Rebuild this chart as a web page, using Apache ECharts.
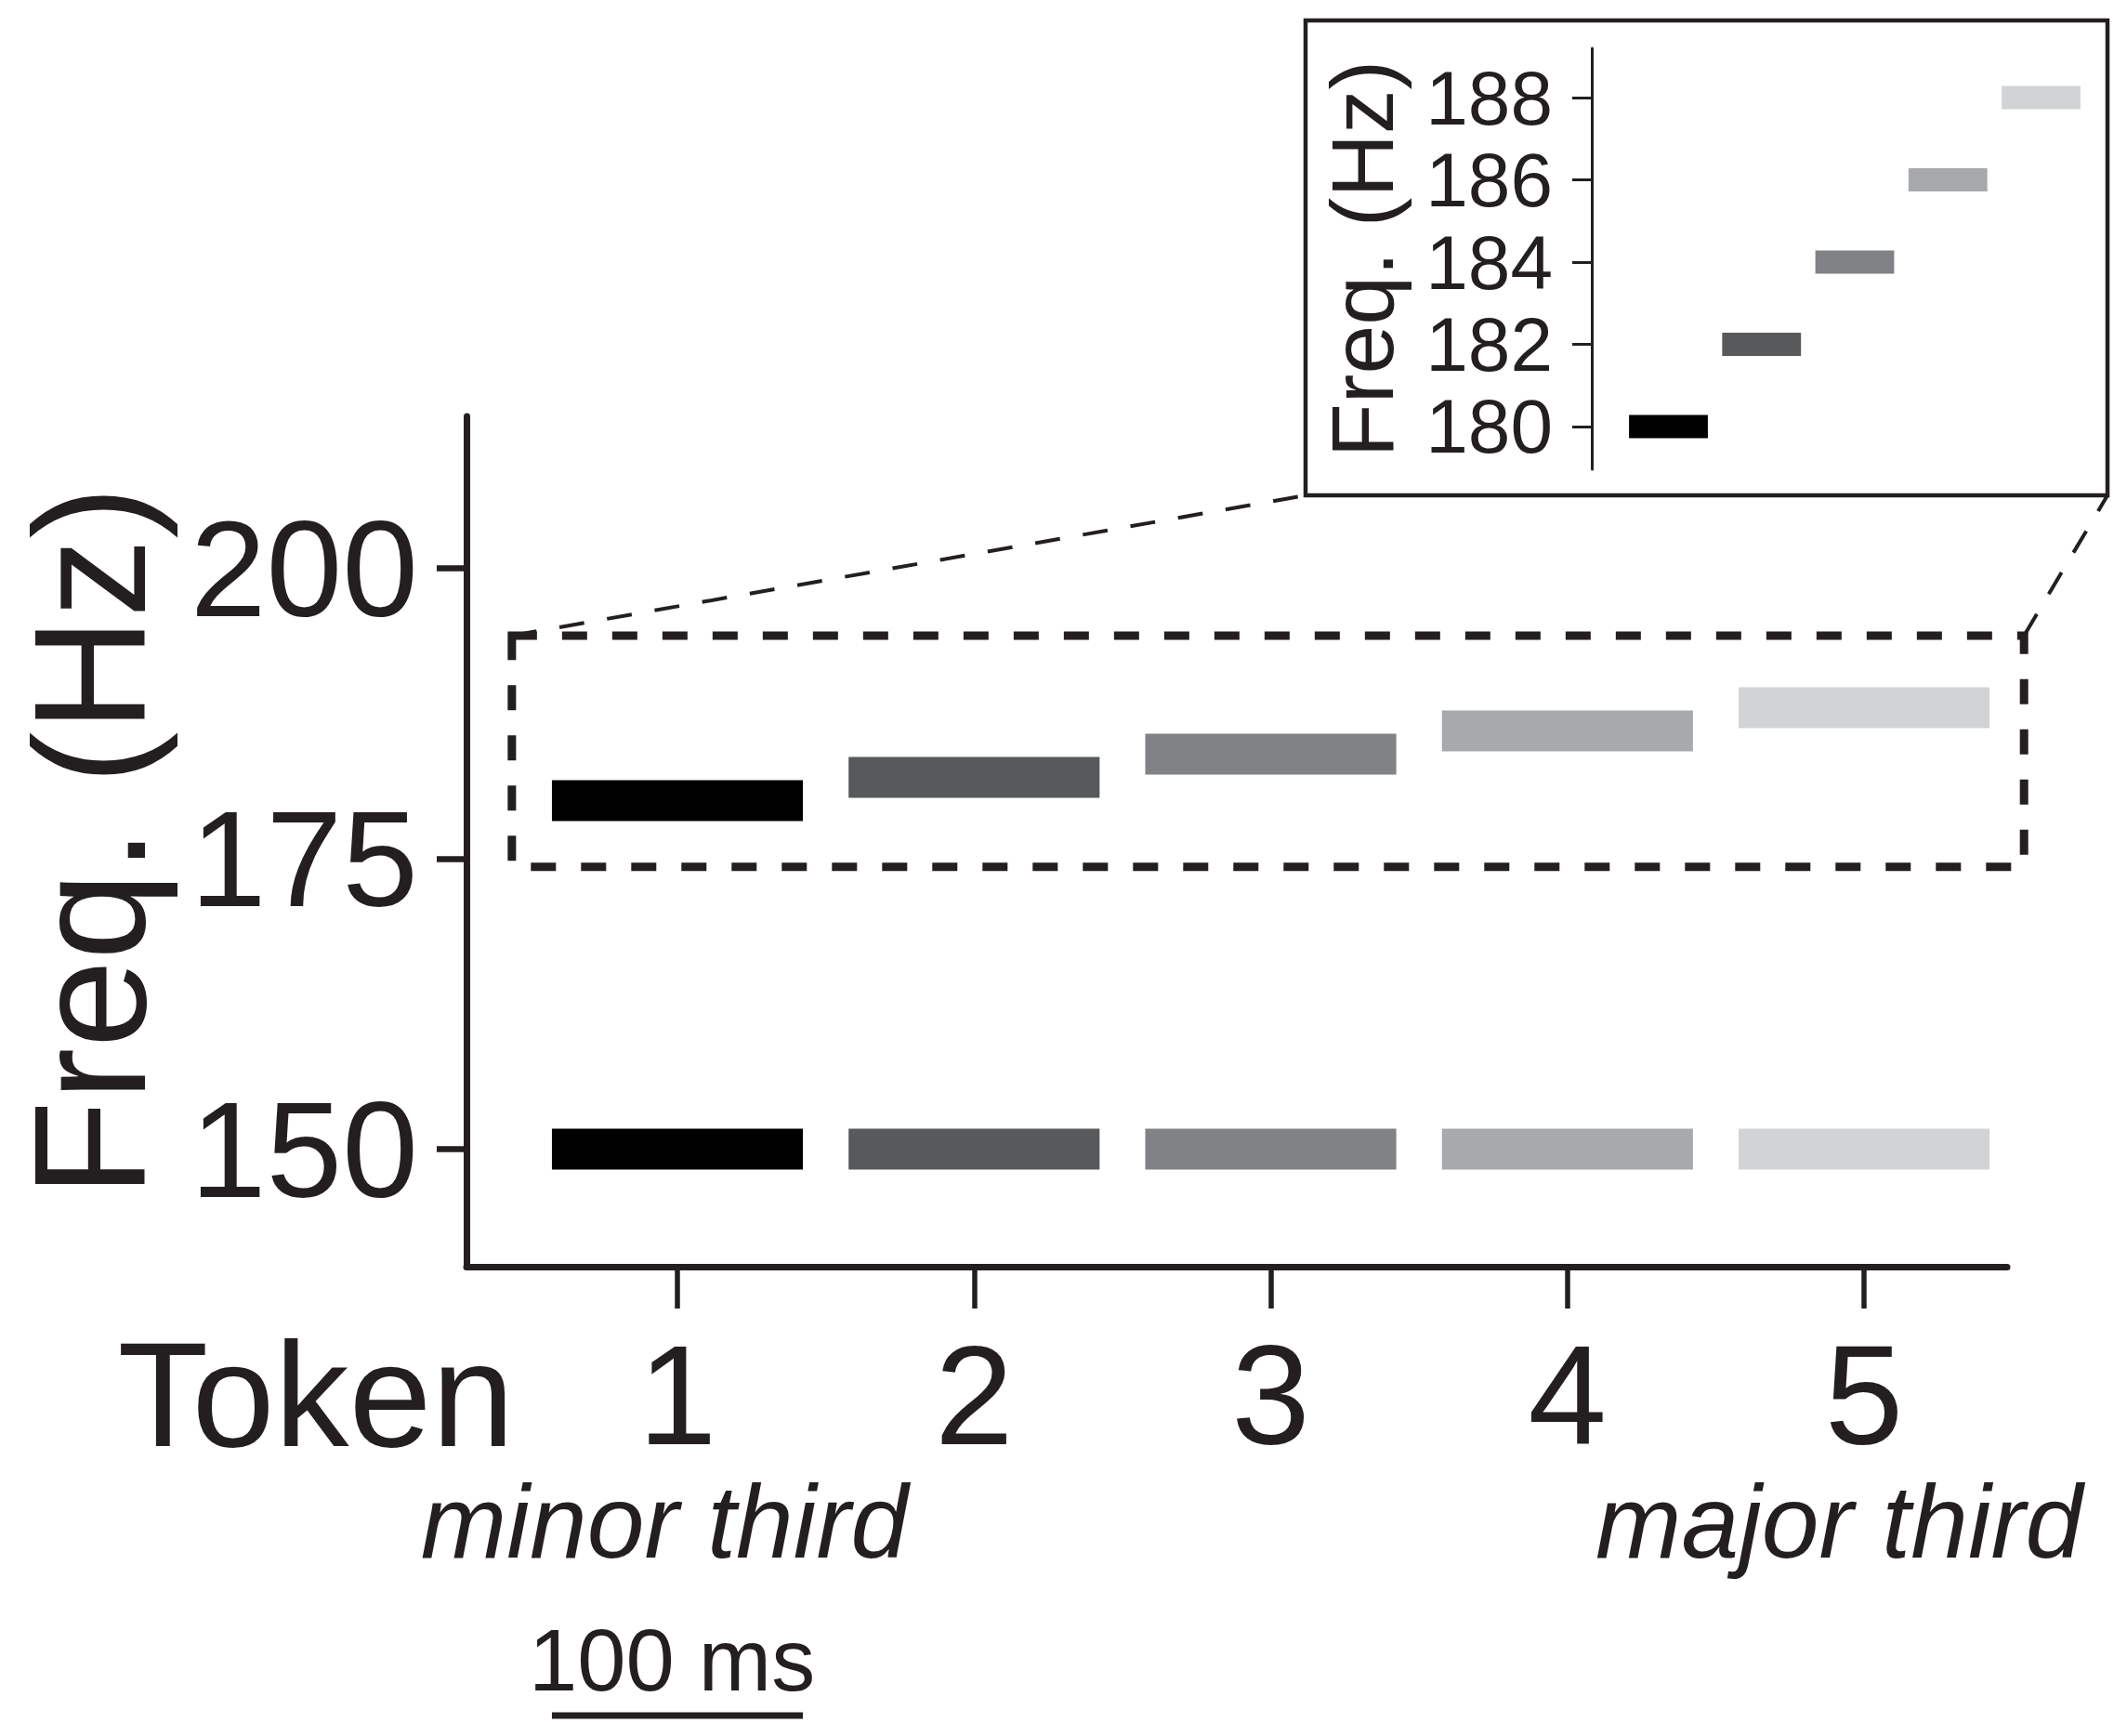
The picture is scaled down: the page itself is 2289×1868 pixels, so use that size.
<!DOCTYPE html>
<html><head><meta charset="utf-8">
<script src="https://cdn.jsdelivr.net/npm/echarts@6/dist/echarts.min.js"></script>
<style>html,body{margin:0;padding:0;background:#fff}#c{width:2289px;height:1868px}</style>
</head><body><div id="c"></div>
<script>
// ---- data ----
const tokens = [1, 2, 3, 4, 5];
const tokenLabels = ['1', '2', '3', '4', '5'];
const baseFreq = [150, 150, 150, 150, 150];
const shiftedFreq = [180, 182, 184, 186, 188];
const toneColors = ['#000000', '#58595b', '#808285', '#a7a9ac', '#d1d3d4'];
const toneHalfWidth = 0.423;            // half of a 100 ms tone, in token units
const mainYTicks = [150, 175, 200];
const insetYTicks = [180, 182, 184, 186, 188];
const zoomBox = [0.442, 5.539, 174.3, 194.2];   // x0, x1, y0, y1 of the dashed region
const INK = '#231f20';
const FONT = "'Liberation Sans', Arial, Helvetica, sans-serif";

const mainTones = [];
const insetTones = [];
tokens.forEach((t, i) => {
  mainTones.push([t - toneHalfWidth, t + toneHalfWidth, baseFreq[i], i]);
  mainTones.push([t - toneHalfWidth, t + toneHalfWidth, shiftedFreq[i], i]);
  insetTones.push([t - toneHalfWidth, t + toneHalfWidth, shiftedFreq[i], i]);
});

function toneRender(thick) {
  return function (params, api) {
    const p0 = api.coord([api.value(0), api.value(2)]);
    const p1 = api.coord([api.value(1), api.value(2)]);
    return {
      type: 'rect',
      shape: { x: p0[0], y: p0[1] - thick / 2, width: p1[0] - p0[0], height: thick },
      style: { fill: toneColors[api.value(3)] }
    };
  };
}

const chart = echarts.init(document.getElementById('c'), null, { renderer: 'svg' });

const option = {
  backgroundColor: '#ffffff',
  animation: false,
  grid: [
    { left: 502, top: 448, width: 1658, height: 915, outerBoundsMode: 'none', containLabel: false },
    { left: 1713, top: 52, width: 544, height: 453, outerBoundsMode: 'none', containLabel: false }
  ],
  xAxis: [
    {
      type: 'value', gridIndex: 0, min: 0.289, max: 5.482,
      axisLine: { onZero: false, lineStyle: { color: INK, width: 7 } },
      axisTick: { customValues: tokens, length: 45, lineStyle: { color: INK, width: 5.5 } },
      axisLabel: {
        customValues: tokens, formatter: v => tokenLabels[tokens.indexOf(v)],
        fontSize: 152, fontFamily: FONT, color: INK, margin: 62
      },
      splitLine: { show: false }
    },
    {
      type: 'value', gridIndex: 1, min: 0.177, max: 5.603, show: false
    }
  ],
  yAxis: [
    {
      type: 'value', gridIndex: 0, min: 139.88, max: 213.08,
      name: 'Freq. (Hz)', nameLocation: 'middle', nameGap: 330,
      nameTextStyle: { fontSize: 170, lineHeight: 150, fontFamily: FONT, color: INK },
      axisLine: { show: true, lineStyle: { color: INK, width: 7 } },
      axisTick: { show: true, customValues: mainYTicks, length: 32, lineStyle: { color: INK, width: 6.5 } },
      axisLabel: { customValues: mainYTicks, fontSize: 147, fontFamily: FONT, color: INK, margin: 52 },
      splitLine: { show: false }
    },
    {
      type: 'value', gridIndex: 1, min: 178.96, max: 189.2,
      name: 'Freq. (Hz)', nameLocation: 'middle', nameGap: 200,
      nameTextStyle: { fontSize: 95, fontFamily: FONT, color: INK },
      axisLine: { show: true, lineStyle: { color: INK, width: 3 } },
      axisTick: { show: true, customValues: insetYTicks, length: 21, lineStyle: { color: INK, width: 3 } },
      axisLabel: { customValues: insetYTicks, fontSize: 82, fontFamily: FONT, color: INK, margin: 42 },
      splitLine: { show: false }
    }
  ],
  series: [
    {
      type: 'custom', name: 'zoomRegion', xAxisIndex: 0, yAxisIndex: 0, clip: false,
      data: [zoomBox],
      renderItem: function (params, api) {
        const a = api.coord([api.value(0), api.value(3)]);
        const b = api.coord([api.value(1), api.value(2)]);
        return {
          type: 'rect',
          shape: { x: a[0], y: a[1], width: b[0] - a[0], height: b[1] - a[1] },
          style: { fill: 'none', stroke: INK, lineWidth: 9, lineDash: [27, 27] }
        };
      },
      silent: true
    },
    {
      type: 'custom', name: 'tones', xAxisIndex: 0, yAxisIndex: 0,
      data: mainTones, encode: { x: [0, 1], y: 2 },
      renderItem: toneRender(44), silent: true
    },
    {
      type: 'custom', name: 'insetTones', xAxisIndex: 1, yAxisIndex: 1,
      data: insetTones, encode: { x: [0, 1], y: 2 },
      renderItem: toneRender(25), silent: true
    }
  ]
};
chart.setOption(option);

// annotations positioned from the chart's own coordinate system
const tl = chart.convertToPixel({ gridIndex: 0 }, [zoomBox[0], zoomBox[3]]);
const tr = chart.convertToPixel({ gridIndex: 0 }, [zoomBox[1], zoomBox[3]]);
const s0 = chart.convertToPixel({ gridIndex: 0 }, [tokens[0] - toneHalfWidth, 150]);
const s1 = chart.convertToPixel({ gridIndex: 0 }, [tokens[0] + toneHalfWidth, 150]);
const t1 = chart.convertToPixel({ gridIndex: 0 }, [tokens[0], 150]);
const t5 = chart.convertToPixel({ gridIndex: 0 }, [tokens[4], 150]);
const inset = { x: 1405, y: 22, w: 863, h: 511 };

chart.setOption({
  graphic: [
    { type: 'rect', shape: { x: inset.x, y: inset.y, width: inset.w, height: inset.h },
      style: { fill: 'none', stroke: INK, lineWidth: 4.5 }, silent: true },
    { type: 'line', shape: { x1: tl[0], y1: tl[1], x2: inset.x, y2: inset.y + inset.h },
      style: { stroke: INK, lineWidth: 4, lineDash: [27, 25] }, silent: true },
    { type: 'line', shape: { x1: tr[0], y1: tr[1], x2: inset.x + inset.w, y2: inset.y + inset.h },
      style: { stroke: INK, lineWidth: 4, lineDash: [27, 25] }, silent: true },
    { type: 'text', x: 340, y: 1500,
      style: { text: 'Token', fontSize: 160, fontFamily: FONT, fill: INK, align: 'center', verticalAlign: 'middle' } },
    { type: 'text', x: t1[0] - 14, y: 1638,
      style: { text: 'minor third', fontSize: 111, fontStyle: 'italic', fontFamily: FONT, fill: INK, align: 'center', verticalAlign: 'middle' } },
    { type: 'text', x: t5[0] - 27, y: 1638,
      style: { text: 'major third', fontSize: 111, fontStyle: 'italic', fontFamily: FONT, fill: INK, align: 'center', verticalAlign: 'middle' } },
    { type: 'text', x: (s0[0] + s1[0]) / 2 - 6, y: 1786,
      style: { text: '100 ms', fontSize: 94, fontFamily: FONT, fill: INK, align: 'center', verticalAlign: 'middle' } },
    { type: 'line', shape: { x1: s0[0], y1: 1846, x2: s1[0], y2: 1846 },
      style: { stroke: INK, lineWidth: 7 }, silent: true }
  ]
});
</script>
</body></html>
